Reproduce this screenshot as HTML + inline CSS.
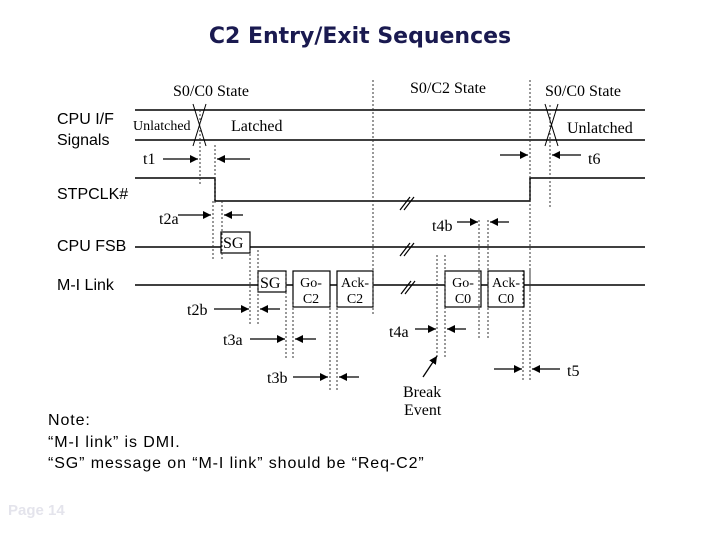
<!DOCTYPE html>
<html><head><style>
body{margin:0;width:720px;height:540px;background:#fff;overflow:hidden;position:relative;font-family:"Liberation Sans",sans-serif}
.t{position:absolute;white-space:nowrap}
</style></head><body>
<div class="t" style="left:0;width:720px;text-align:center;top:24px;font-size:22px;font-weight:bold;color:#1a1a50;font-family:'DejaVu Sans',sans-serif">C2 Entry/Exit Sequences</div>
<div class="t" style="left:57px;top:109px;font-size:16px;line-height:21px">CPU I/F<br>Signals</div>
<div class="t" style="left:57px;top:186px;font-size:16px">STPCLK#</div>
<div class="t" style="left:57px;top:238px;font-size:16px">CPU FSB</div>
<div class="t" style="left:57px;top:277px;font-size:16px">M-I Link</div>
<div class="t" style="left:48px;top:410px;font-size:16px;line-height:21.5px;letter-spacing:0.9px">Note:<br>“M-I link” is DMI.<br>“SG” message on “M-I link” should be “Req-C2”</div>
<div class="t" style="left:8px;top:502px;font-size:15px;color:#e4e4ec;font-weight:bold">Page 14</div>
<svg width="720" height="540" style="position:absolute;left:0;top:0" font-family="Liberation Serif,serif" font-size="16">
<defs><marker id="a" markerWidth="8" markerHeight="8" refX="8" refY="4" orient="auto" markerUnits="userSpaceOnUse"><path d="M0,0L8,4L0,8z" fill="#000"/></marker></defs>
<g stroke="#000" stroke-width="1.5" fill="none">
<path d="M135,110H645M135,140H645"/>
<path d="M135,178H215V201H530V178H645"/>
<path d="M135,247H645M135,285H645"/>
<path d="M193,104L206,146M206,104L193,146M545,104L558,146M558,104L545,146" stroke-width="1"/>
</g>
<g fill="#fff" stroke="#000" stroke-width="1.2">
<rect x="221" y="232" width="29" height="21"/>
<rect x="258" y="271" width="28" height="21"/>
<rect x="293" y="271" width="37" height="36"/>
<rect x="337" y="271" width="36" height="36"/>
<rect x="445" y="271" width="36" height="36"/>
<rect x="488" y="271" width="36" height="36"/>
</g>
<g stroke="#000" stroke-width="1.2" fill="none">
<path d="M400,210l10,-13M404,210l10,-13M400,256l10,-13M404,256l10,-13M401,294l10,-13M405,294l10,-13"/>
</g>
<g stroke="#333" stroke-width="1" stroke-dasharray="2,2" fill="none">
<path d="M373,80V315M530,80V290M200,110V185M215,145V205M550,105V207M213,201V260M222,201V260M250,250V325M258,250V325M286,272V360M293,300V360M330,300V390M337,300V390M437,255V358M445,255V358M479,220V340M488,220V340M523,270V382M530,270V382"/>
</g>
<g stroke="#000" stroke-width="1.3" marker-end="url(#a)">
<line x1="163" y1="159" x2="198" y2="159"/><line x1="250" y1="159" x2="217" y2="159"/>
<line x1="500" y1="155" x2="528" y2="155"/><line x1="581" y1="155" x2="552" y2="155"/>
<line x1="178" y1="215" x2="211" y2="215"/><line x1="243" y1="215" x2="224" y2="215"/>
<line x1="457" y1="222" x2="478" y2="222"/><line x1="509" y1="222" x2="490" y2="222"/>
<line x1="214" y1="309" x2="249" y2="309"/><line x1="280" y1="309" x2="260" y2="309"/>
<line x1="250" y1="339" x2="285" y2="339"/><line x1="316" y1="339" x2="295" y2="339"/>
<line x1="293" y1="377" x2="328" y2="377"/><line x1="359" y1="377" x2="339" y2="377"/>
<line x1="415" y1="329" x2="436" y2="329"/><line x1="466" y1="329" x2="447" y2="329"/>
<line x1="494" y1="369" x2="522" y2="369"/><line x1="560" y1="369" x2="532" y2="369"/>
<line x1="423" y1="377" x2="437" y2="356"/>
</g>
<g fill="#000">
<text x="173" y="96">S0/C0 State</text><text x="410" y="93">S0/C2 State</text><text x="545" y="96">S0/C0 State</text>
<text x="133" y="130" font-size="14">Unlatched</text><text x="231" y="131">Latched</text><text x="567" y="133">Unlatched</text>
<text x="143" y="164">t1</text><text x="588" y="164">t6</text>
<text x="159" y="224">t2a</text><text x="432" y="231">t4b</text>
<text x="223" y="248">SG</text><text x="260" y="288">SG</text>
<text x="311" y="287" text-anchor="middle" font-size="14">Go-</text><text x="311" y="303" text-anchor="middle" font-size="14">C2</text>
<text x="355" y="287" text-anchor="middle" font-size="14">Ack-</text><text x="355" y="303" text-anchor="middle" font-size="14">C2</text>
<text x="463" y="287" text-anchor="middle" font-size="14">Go-</text><text x="463" y="303" text-anchor="middle" font-size="14">C0</text>
<text x="506" y="287" text-anchor="middle" font-size="14">Ack-</text><text x="506" y="303" text-anchor="middle" font-size="14">C0</text>
<text x="187" y="315">t2b</text><text x="223" y="345">t3a</text><text x="267" y="383">t3b</text>
<text x="389" y="337">t4a</text><text x="567" y="376">t5</text>
<text x="403" y="397">Break</text><text x="404" y="415">Event</text>
</g>
</svg>
</body></html>
